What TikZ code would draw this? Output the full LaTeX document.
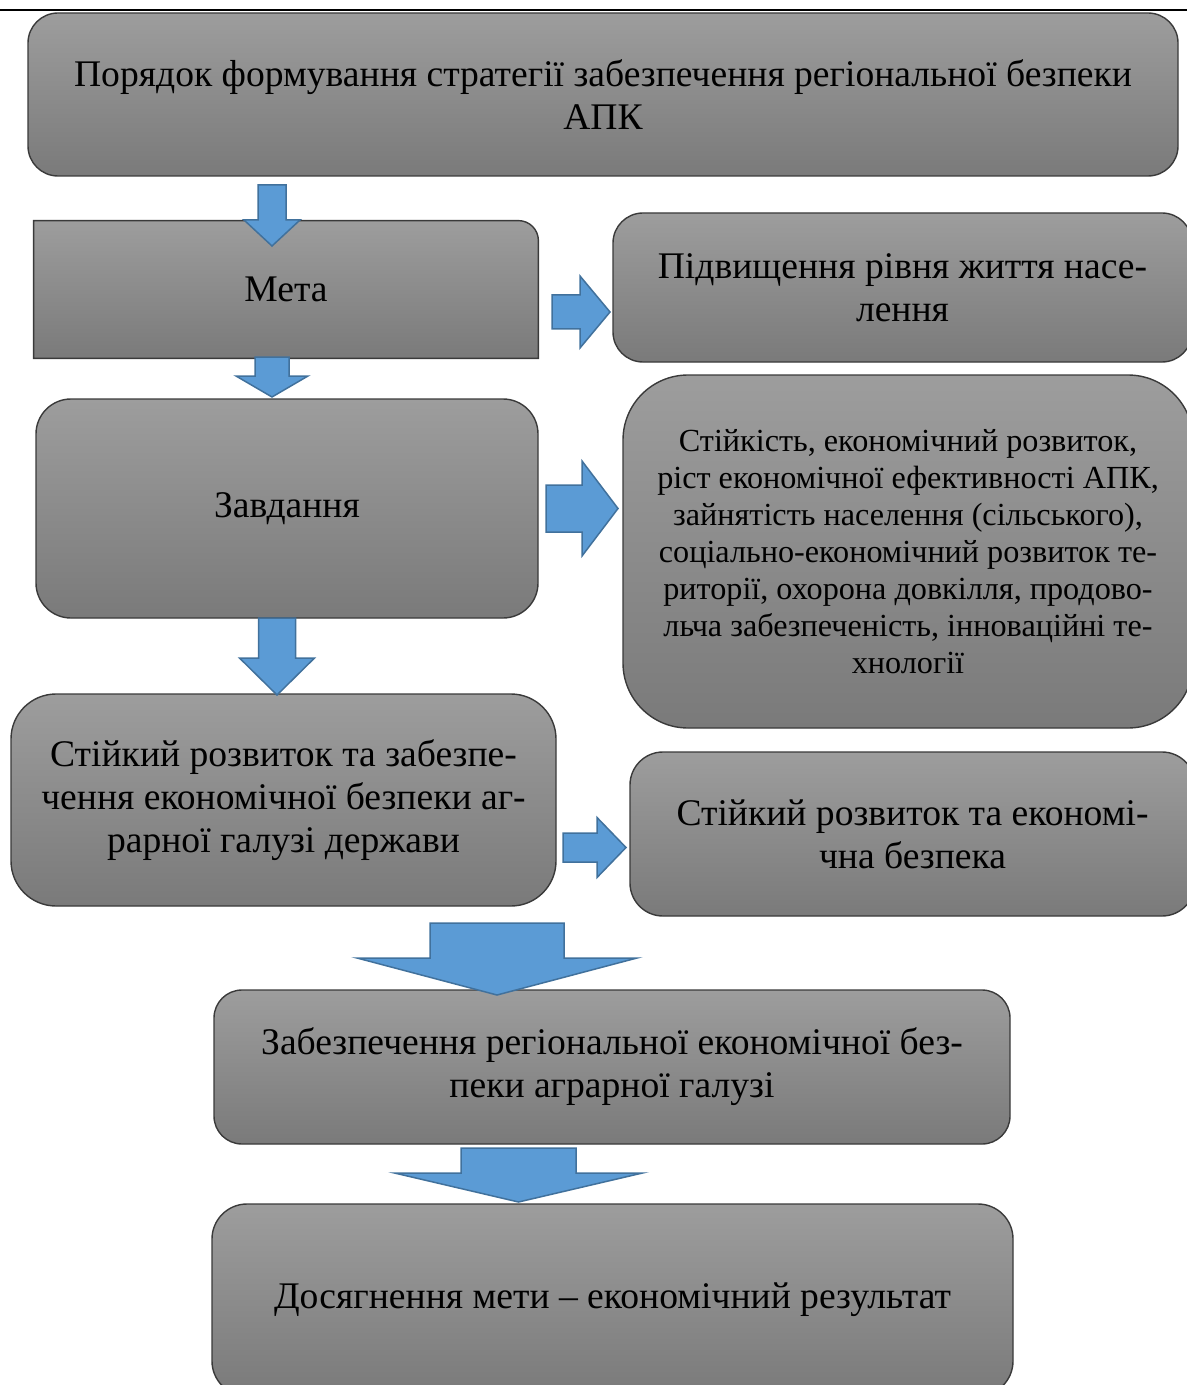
\documentclass[tikz,border=0pt]{standalone}
\usepackage{fontspec}
\setmainfont{Liberation Serif}
\usetikzlibrary{backgrounds}
\definecolor{boxtop}{HTML}{9D9D9D}
\definecolor{boxbot}{HTML}{7A7A7A}
\definecolor{boxline}{HTML}{3A3A3A}
\definecolor{arrowfill}{HTML}{5B9BD5}
\definecolor{arrowline}{HTML}{41719C}
\tikzset{
  bigfont/.style={font=\rmfamily\fontsize{18.8}{21.5}\selectfont},
  box/.style={draw=boxline, line width=0.7pt, top color=boxtop, bottom color=boxbot,
    align=center, inner sep=0pt, bigfont},
  smallbox/.style={box, font=\rmfamily\fontsize{16.1}{18.5}\selectfont},
  blockarrow/.style={fill=arrowfill, draw=arrowline, line width=0.75pt, line join=miter},
}
% x, top, wing, tip, half shaft, half head
\newcommand{\downblock}[6]{%
  \filldraw[blockarrow] ({#1-#5},#2) -- ({#1+#5},#2) -- ({#1+#5},#3) -- ({#1+#6},#3)
    -- (#1,#4) -- ({#1-#6},#3) -- ({#1-#5},#3) -- cycle;}
% y, left, wing, tip, half shaft, half head
\newcommand{\rightblock}[6]{%
  \filldraw[blockarrow] (#2,{#1-#5}) -- (#3,{#1-#5}) -- (#3,{#1-#6}) -- (#4,#1)
    -- (#3,{#1+#6}) -- (#3,{#1+#5}) -- (#2,{#1+#5}) -- cycle;}
\begin{document}
\begin{tikzpicture}[x=0.5pt,y=-0.5pt]
    \useasboundingbox (0,0) rectangle (1187,1385);
    \clip (0,0) rectangle (1187,1385);
    \draw[line width=1pt] (0,10) -- (1187,10);

    \node[box, rounded corners=15pt, minimum width=575pt, minimum height=81.5pt] (order) at (603,94.5)
        {Порядок формування стратегії забезпечення регіональної безпеки\\АПК};
    \node[bigfont, inner sep=0pt, minimum width=252pt, minimum height=68.5pt] (meta) at (286,289.5) {Мета};
    \node[box, minimum width=289.5pt, minimum height=74.5pt, rounded corners=15pt] (goal) at (902.5,287.5)
        {Підвищення рівня життя насе-\\лення};
    \node[box, minimum width=251pt, minimum height=109.5pt, rounded corners=17.5pt] (tasks) at (287,508.5) {Завдання};
    \node[smallbox, minimum width=285pt, minimum height=176.5pt, rounded corners=32.5pt] (tasklist) at (908,551.5)
        {Стійкість, економічний розвиток,\\ріст економічної ефективності АПК,\\зайнятість населення (сільського),\\соціально-економічний розвиток те-\\риторії, охорона довкілля, продово-\\льча забезпеченість, інноваційні те-\\хнології};
    \node[box, minimum width=272.5pt, minimum height=106pt, rounded corners=22.5pt] (develop) at (283.5,800)
        {Стійкий розвиток та забезпе-\\чення економічної безпеки аг-\\рарної галузі держави};
    \node[box, minimum width=282.5pt, minimum height=82pt, rounded corners=16.5pt] (security) at (912.5,834)
        {Стійкий розвиток та економі-\\чна безпека};
    \node[box, minimum width=398pt, minimum height=77pt, rounded corners=14pt] (regional) at (612,1067)
        {Забезпечення регіональної економічної без-\\пеки аграрної галузі};
    \node[box, minimum width=400.5pt, minimum height=96pt, rounded corners=17.5pt] (result) at (612.5,1300)
        {Досягнення мети – економічний результат};

    % Meta box: only the top right corner is round
    \begin{pgfonlayer}{background}
    \path[draw=boxline, line width=0.7pt, top color=boxtop, bottom color=boxbot]
        (meta.south west) -- (meta.north west) -- ([xshift=-10pt]meta.north east)
        arc[start angle=90, end angle=0, radius=10pt] -- (meta.south east) -- cycle;
    \end{pgfonlayer}

    % block arrows
    \downblock{272}{185}{220}{246}{14}{28}
    \downblock{272}{357}{376}{397}{17}{36}
    \downblock{277}{618}{658}{695}{18.5}{37.5}
    \downblock{497}{923}{958}{995}{67}{140}
    \downblock{518.5}{1148}{1173}{1202}{57.5}{124}
    \rightblock{312}{552}{580}{610}{17}{36}
    \rightblock{508.5}{546}{582}{618}{23.5}{47.5}
    \rightblock{847.5}{563}{597}{626}{14.5}{30}
\end{tikzpicture}
\end{document}
